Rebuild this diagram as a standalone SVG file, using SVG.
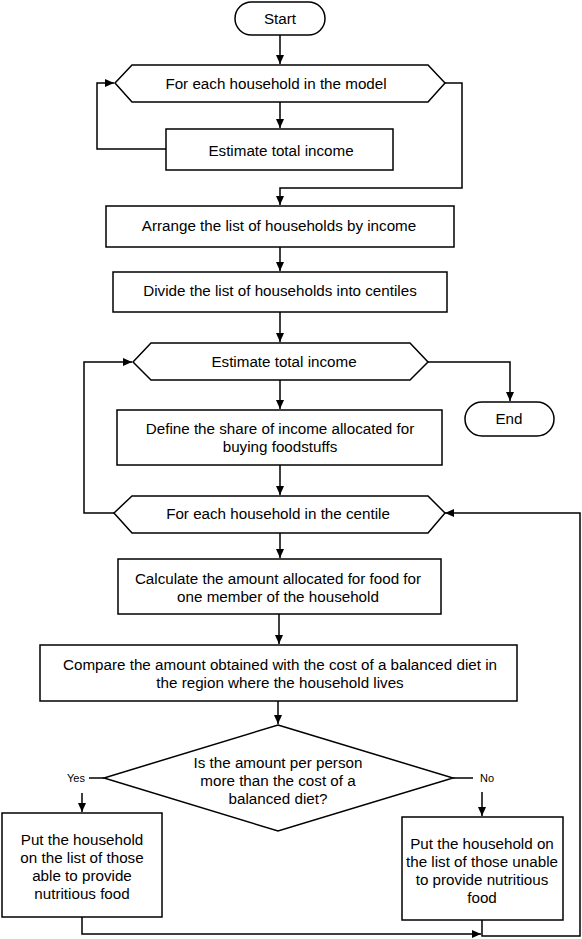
<svg xmlns="http://www.w3.org/2000/svg" width="582" height="939" viewBox="0 0 582 939">
<defs>
<marker id="arr" markerUnits="userSpaceOnUse" markerWidth="10" markerHeight="10" refX="9" refY="4" orient="auto">
<path d="M0,0 L9,4 L0,8 z" fill="#000"/>
</marker>
<style>
.n{fill:#fff;stroke:#000;stroke-width:1.5}
.t{font-family:"Liberation Sans",Arial,sans-serif;font-size:15.2px;fill:#000;text-anchor:middle;dominant-baseline:central}
.s{font-size:11px}
.c{fill:none;stroke:#000;stroke-width:1.5}
.a{marker-end:url(#arr)}
</style>
</defs>
<rect width="582" height="939" fill="#fff"/>
<g id="connectors">
<path class="c a" d="M280,35 V64"/>
<path class="c a" d="M280,102 V128"/>
<path class="c a" d="M166,149 H97 V83 H114"/>
<path class="c a" d="M445,83 H462 V188 H280 V205"/>
<path class="c a" d="M280,247 V271"/>
<path class="c a" d="M280,312 V342"/>
<path class="c a" d="M428,362 H510 V401"/>
<path class="c a" d="M280,380 V409"/>
<path class="c a" d="M280,465 V495"/>
<path class="c a" d="M114,513 H84 V362 H132"/>
<path class="c a" d="M280,533 V558"/>
<path class="c a" d="M279,614 V644"/>
<path class="c a" d="M278,701 V724"/>
<path class="c" d="M104,778 H89"/>
<path class="c a" d="M82,793 V812"/>
<path class="c" d="M453,778 H473"/>
<path class="c a" d="M482,792 V816"/>
<path class="c a" d="M82,917 V934 H481"/>
<path class="c a" d="M482,920 V936 H580 V513 H445"/>
</g>
<g id="start">
<rect class="n" x="235" y="2" width="90" height="33" rx="16.5"/>
<text class="t" x="280" y="18.5">Start</text>
</g>
<g id="loop-households">
<polygon class="n" points="115,83 132,65 428,65 445,83 428,102 132,102"/>
<text class="t" x="276" y="83">For each household in the model</text>
</g>
<g id="estimate-income">
<rect class="n" x="166" y="129" width="227" height="41"/>
<text class="t" x="281" y="150">Estimate total income</text>
</g>
<g id="arrange">
<rect class="n" x="106" y="206" width="348" height="41"/>
<text class="t" x="279" y="225">Arrange the list of households by income</text>
</g>
<g id="divide">
<rect class="n" x="113" y="272" width="334" height="40"/>
<text class="t" x="280" y="290">Divide the list of households into centiles</text>
</g>
<g id="loop-centiles">
<polygon class="n" points="133,362 151,343 410,343 428,362 410,380 151,380"/>
<text class="t" x="284" y="361">Estimate total income</text>
</g>
<g id="end">
<rect class="n" x="465" y="402" width="89" height="34" rx="17"/>
<text class="t" x="509" y="418">End</text>
</g>
<g id="define-share">
<rect class="n" x="117" y="410" width="325" height="55"/>
<text class="t" x="280" y="428">Define the share of income allocated for</text>
<text class="t" x="280" y="446">buying foodstuffs</text>
</g>
<g id="loop-centile-households">
<polygon class="n" points="114,513 132,496 428,496 445,513 428,533 132,533"/>
<text class="t" x="278" y="513">For each household in the centile</text>
</g>
<g id="calculate">
<rect class="n" x="118" y="559" width="323" height="55"/>
<text class="t" x="278" y="578">Calculate the amount allocated for food for</text>
<text class="t" x="278" y="596">one member of the household</text>
</g>
<g id="compare">
<rect class="n" x="40" y="645" width="477" height="56"/>
<text class="t" x="280" y="664">Compare the amount obtained with the cost of a balanced diet in</text>
<text class="t" x="280" y="682">the region where the household lives</text>
</g>
<g id="decision">
<polygon class="n" points="278,725 453,778 278,831 104,778"/>
<text class="t" x="278" y="762">Is the amount per person</text>
<text class="t" x="278" y="780">more than the cost of a</text>
<text class="t" x="278" y="798">balanced diet?</text>
<text class="t s" x="76" y="778">Yes</text>
<text class="t s" x="487" y="778">No</text>
</g>
<g id="able">
<rect class="n" x="2" y="813" width="160" height="104"/>
<text class="t" x="82" y="839">Put the household</text>
<text class="t" x="82" y="857">on the list of those</text>
<text class="t" x="82" y="875">able to provide</text>
<text class="t" x="82" y="893">nutritious food</text>
</g>
<g id="unable">
<rect class="n" x="402" y="817" width="161" height="103"/>
<text class="t" x="482" y="843">Put the household on</text>
<text class="t" x="482" y="861">the list of those unable</text>
<text class="t" x="482" y="879">to provide nutritious</text>
<text class="t" x="482" y="897">food</text>
</g>
</svg>
